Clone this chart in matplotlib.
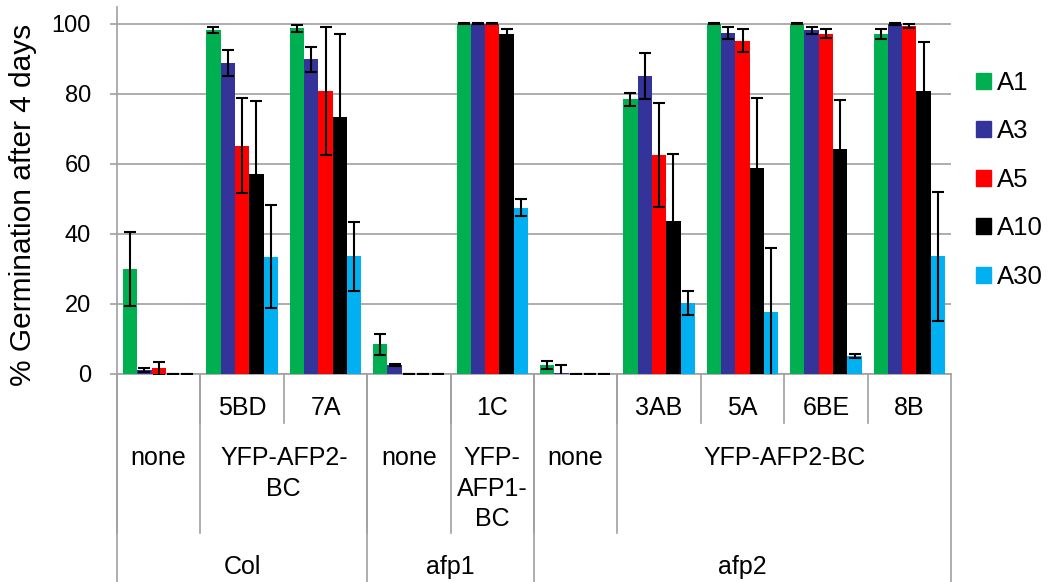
#!/usr/bin/env python3
# -*- coding: utf-8 -*-

import numpy as np
import matplotlib
matplotlib.use("Agg")
import matplotlib.pyplot as plt
from matplotlib.patches import Patch

plt.rcParams['font.family'] = ['Liberation Sans', 'DejaVu Sans']

# one entry per group of bars (left to right)
LINES = ["", "5BD", "7A", "", "1C", "", "3AB", "5A", "6BE", "8B"]
# merged cells of the category axis: (label, number of groups spanned)
CONSTRUCTS = [("none", 1), ("YFP-AFP2-\nBC", 2), ("none", 1),
              ("YFP-\nAFP1-\nBC", 1), ("none", 1), ("YFP-AFP2-BC", 4)]
BACKGROUNDS = [("Col", 3), ("afp1", 2), ("afp2", 5)]

SERIES = ["A1", "A3", "A5", "A10", "A30"]
A1 = [30.0, 98.2, 98.7, 8.4, 100.0, 2.5, 78.4, 100.0, 100.0, 97.1]
A3 = [1.0, 88.7, 89.8, 2.6, 100.0, 0.1, 85.0, 97.3, 98.1, 99.9]
A5 = [1.5, 65.2, 80.7, 0.0, 100.0, 0.0, 62.6, 95.1, 97.1, 99.3]
A10 = [0.0, 57.1, 73.3, 0.0, 97.1, 0.0, 43.5, 58.7, 64.2, 80.8]
A30 = [0.0, 33.4, 33.5, 0.0, 47.4, 0.0, 20.2, 17.6, 5.1, 33.5]

A1_ERR = [10.6, 0.8, 1.0, 3.0, 0.1, 1.1, 1.8, 0.1, 0.1, 1.4]
A3_ERR = [0.6, 3.7, 3.6, 0.3, 0.1, 2.5, 6.6, 1.7, 1.1, 0.2]
A5_ERR = [1.9, 13.7, 18.3, 0.0, 0.1, 0.0, 14.9, 3.3, 1.3, 0.6]
A10_ERR = [0.0, 20.8, 23.9, 0.0, 1.3, 0.0, 19.4, 20.2, 14.0, 14.0]
A30_ERR = [0.0, 14.7, 9.8, 0.0, 2.4, 0.0, 3.5, 18.2, 0.5, 18.5]

COLORS = ["#00B050", "#333399", "#FF0000", "#000000", "#00B0F0"]
YTICKS = [0, 20, 40, 60, 80, 100]

GRAY = "#A0A0A0"
TICKSIZE = 17
CATSIZE = 18
LEGENDSIZE = 18.5
LABELSIZE = 21.5

W, H = 1058, 582


def ypix(p):
    # pixel row below the axes -> axes fraction
    return (373.7 - p) / (373.7 - 7.0)


def main():
    fig = plt.figure(figsize=(W / 100, H / 100), dpi=100)
    ax = fig.add_axes([117 / W, (H - 373.7) / H, (951 - 117) / W, (373.7 - 7.0) / H])

    vals = [A1, A3, A5, A10, A30]
    errs = [A1_ERR, A3_ERR, A5_ERR, A10_ERR, A30_ERR]
    n = len(LINES)
    x = np.arange(n) + 0.5
    bw = 0.1715

    for k, (v, e) in enumerate(zip(vals, errs)):
        xs = x + (k - 2) * bw
        ax.bar(xs, v, bw, color=COLORS[k], label=SERIES[k], zorder=3)
        ax.errorbar(xs, v, yerr=e, fmt="none", ecolor="black", elinewidth=1.5,
                    capsize=4.5, capthick=1.5, zorder=4)

    ax.set_xlim(0, n)
    ax.set_ylim(0, 104.8)
    ax.set_yticks(YTICKS)
    ax.set_yticklabels([str(t) for t in YTICKS], fontsize=TICKSIZE)
    ax.set_xticks([])
    ax.tick_params(axis="y", direction="out", length=5.3, width=1.2,
                   color=GRAY, pad=13.5)
    ax.yaxis.grid(True, color=GRAY, linewidth=1.2, zorder=0)
    ax.set_axisbelow(True)
    for s in ["top", "right"]:
        ax.spines[s].set_visible(False)
    for s in ["left", "bottom"]:
        ax.spines[s].set_color(GRAY)
        ax.spines[s].set_linewidth(1.2)

    # multi-level category axis
    tr = ax.get_xaxis_transform()
    lkw = dict(color=GRAY, linewidth=1.2, transform=tr, clip_on=False)
    y1, y2, y3 = ypix(423), ypix(533), ypix(585)

    pos = 0
    for lbl, span in BACKGROUNDS:
        ax.plot([pos, pos], [0, y3], **lkw)
        ax.text(pos + span / 2, ypix(567), lbl, ha="center", va="center",
                fontsize=CATSIZE, transform=tr)
        pos += span
    ax.plot([pos, pos], [0, y3], **lkw)

    pos = 0
    for lbl, span in CONSTRUCTS:
        ax.plot([pos, pos], [0, y2], **lkw)
        ax.text(pos + span / 2, ypix(446), lbl, ha="center", va="top",
                fontsize=CATSIZE, linespacing=1.35, transform=tr)
        pos += span

    for i, lbl in enumerate(LINES):
        if lbl:
            ax.plot([i, i], [0, y1], **lkw)
            ax.text(i + 0.5, ypix(408), lbl, ha="center", va="center",
                    fontsize=CATSIZE, transform=tr)

    fig.text(23.5 / W, 1 - 205 / H, "% Germination after 4 days", rotation=90,
             ha="center", va="center", fontsize=LABELSIZE)

    handles = [Patch(color=c) for c in COLORS]
    fig.legend(handles, SERIES, loc="upper left",
               bbox_to_anchor=(976 / W, 1 - 71 / H), frameon=False,
               fontsize=LEGENDSIZE, handlelength=0.6, handleheight=0.58,
               handletextpad=0.2, labelspacing=0.95, borderpad=0,
               borderaxespad=0)

    plt.savefig("out.png", dpi=100)
    plt.close()


if __name__ == "__main__":
    main()
